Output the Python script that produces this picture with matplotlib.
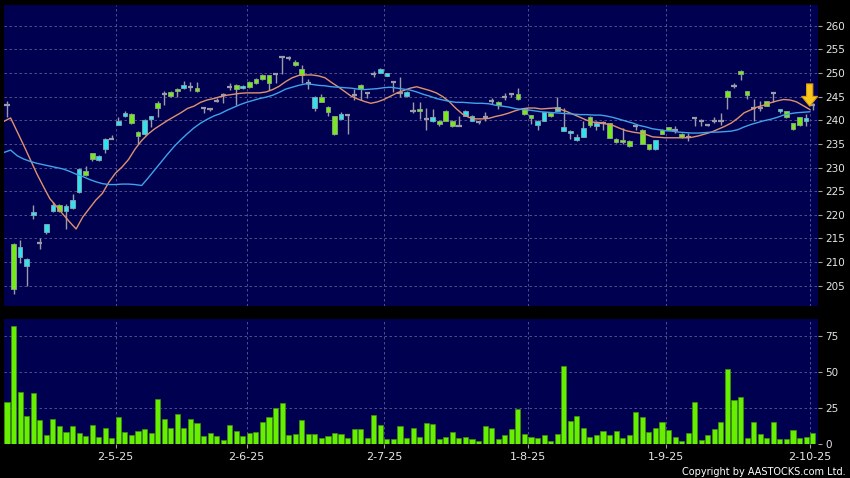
import numpy as np
import matplotlib
matplotlib.use('Agg')
import matplotlib.pyplot as plt
from matplotlib.patches import FancyArrowPatch, ArrowStyle

# daily candles, Apr 2025 - 2 Oct 2025
opens = [243.2, 213.9, 211.1, 209.2, 220.0, 214.0, 216.3, 220.8, 222.1, 220.8,
         221.5, 224.9, 229.2, 233.0, 231.6, 233.9, 236.1, 239.0, 241.0, 241.3,
         237.6, 237.1, 240.2, 243.6, 245.6, 246.0, 246.7, 246.8, 247.0, 246.8,
         242.6, 242.3, 244.0, 245.4, 247.0, 247.5, 246.8, 248.2, 248.8, 249.5,
         249.5, 249.9, 253.3, 253.2, 252.3, 250.8, 247.8, 242.6, 244.9, 242.9,
         240.9, 240.3, 241.1, 245.4, 247.5, 245.8, 249.9, 250.1, 249.4, 248.2,
         245.8, 245.1, 241.9, 242.3, 240.3, 239.9, 239.9, 242.0, 239.9, 238.8,
         241.0, 239.9, 239.6, 240.6, 244.0, 243.8, 244.9, 245.6, 245.6, 242.5,
         241.1, 239.1, 239.9, 241.6, 242.0, 237.8, 237.3, 235.8, 236.5, 240.8,
         238.8, 239.4, 239.4, 236.1, 235.8, 235.7, 238.7, 238.0, 234.9, 233.9,
         238.0, 238.5, 238.0, 237.1, 236.5, 240.4, 239.9, 238.9, 239.8, 239.8,
         246.3, 247.3, 250.4, 246.1, 242.6, 242.7, 244.0, 245.7, 242.0, 241.9,
         239.4, 240.6, 239.9, 243.2]
highs = [244.0, 214.0, 214.6, 210.8, 222.0, 215.1, 218.1, 222.7, 222.3, 222.3,
         224.3, 229.8, 230.4, 233.1, 232.6, 236.2, 236.8, 240.8, 241.9, 241.5,
         237.8, 240.3, 241.0, 244.0, 246.3, 246.2, 246.8, 248.4, 248.0, 248.0,
         242.7, 242.4, 244.8, 245.7, 247.8, 247.6, 247.4, 248.3, 249.0, 249.7,
         249.6, 250.0, 253.7, 253.7, 252.7, 251.6, 248.7, 245.1, 245.6, 243.0,
         241.0, 241.8, 241.2, 246.7, 247.6, 246.0, 250.5, 251.0, 250.1, 248.4,
         249.1, 246.2, 243.8, 243.8, 242.6, 242.3, 240.0, 242.1, 240.0, 241.0,
         242.2, 241.1, 239.9, 241.7, 244.8, 244.0, 245.8, 245.8, 246.9, 242.6,
         241.2, 240.0, 241.8, 241.7, 245.0, 242.6, 237.9, 237.2, 239.9, 240.9,
         239.9, 239.8, 239.5, 236.2, 238.3, 235.8, 239.2, 238.1, 235.0, 235.9,
         238.1, 238.6, 238.8, 237.3, 237.4, 240.6, 240.2, 239.0, 240.6, 241.5,
         246.4, 247.8, 250.6, 246.2, 244.5, 244.0, 244.1, 245.9, 242.4, 242.0,
         239.5, 240.7, 241.4, 243.6]
lows = [240.6, 203.2, 209.9, 205.0, 219.2, 212.7, 215.9, 220.6, 220.6, 217.0,
        221.3, 224.7, 228.2, 231.3, 231.4, 233.0, 236.0, 238.9, 240.6, 239.2,
        235.0, 236.9, 238.5, 240.8, 243.2, 245.0, 244.9, 246.6, 246.2, 245.9,
        241.5, 241.9, 243.8, 243.7, 246.5, 243.3, 246.6, 246.9, 247.7, 248.6,
        246.5, 247.9, 249.9, 252.8, 251.5, 247.8, 246.6, 241.9, 243.8, 240.9,
        236.9, 240.2, 237.1, 244.2, 244.2, 244.7, 249.2, 250.0, 249.3, 246.0,
        245.0, 245.0, 241.5, 240.3, 238.0, 239.7, 238.7, 239.8, 238.6, 238.7,
        240.9, 239.8, 239.3, 239.9, 243.4, 242.4, 244.3, 244.9, 244.4, 241.2,
        239.3, 238.0, 239.8, 240.8, 241.9, 237.7, 236.1, 235.7, 236.4, 238.6,
        237.9, 237.9, 236.2, 235.3, 235.0, 234.4, 238.0, 234.9, 233.8, 233.8,
        237.0, 237.9, 237.4, 236.3, 235.6, 238.7, 238.7, 238.8, 239.4, 238.9,
        242.3, 246.8, 248.5, 244.5, 239.8, 242.0, 243.0, 243.8, 241.5, 240.4,
        237.9, 238.8, 238.8, 242.2]
closes = [243.2, 204.2, 213.2, 210.7, 220.6, 214.0, 218.0, 222.1, 220.8, 221.9,
          223.2, 229.7, 228.4, 231.8, 232.5, 236.1, 236.1, 239.9, 241.5, 239.4,
          236.7, 240.1, 240.9, 242.5, 245.6, 245.1, 246.2, 247.5, 247.0, 246.3,
          242.6, 242.3, 244.0, 245.4, 247.0, 246.7, 247.3, 247.1, 247.9, 248.8,
          247.8, 249.9, 253.3, 253.2, 251.8, 249.6, 247.8, 245.0, 243.9, 241.7,
          237.0, 241.3, 241.1, 245.4, 246.6, 245.8, 249.9, 250.8, 250.0, 248.2,
          245.8, 245.9, 241.9, 241.9, 240.3, 240.8, 239.2, 239.9, 238.8, 238.8,
          242.0, 241.0, 239.6, 240.6, 244.0, 243.2, 244.9, 245.6, 244.5, 241.3,
          240.5, 239.9, 241.7, 240.9, 242.9, 238.5, 237.8, 236.5, 238.3, 239.1,
          239.5, 239.4, 236.3, 235.4, 235.4, 234.6, 238.7, 235.0, 233.9, 235.8,
          237.1, 238.0, 238.0, 236.4, 236.5, 240.4, 239.9, 238.9, 239.8, 239.8,
          244.9, 247.3, 249.8, 245.3, 242.6, 242.7, 243.1, 245.7, 242.4, 240.6,
          238.2, 239.1, 240.4, 243.2]
volumes = [28.7, 81.9, 35.6, 18.8, 35.2, 16.2, 5.8, 17.1, 12.0, 8.3,
           12.5, 7.6, 5.3, 13.2, 4.6, 11.1, 3.7, 18.1, 8.1, 6.0,
           8.8, 10.2, 7.2, 31.3, 16.7, 11.1, 20.8, 10.6, 16.9, 14.1,
           4.9, 7.2, 5.3, 2.5, 13.0, 8.8, 5.1, 7.2, 8.1, 15.3,
           18.1, 24.5, 28.0, 5.6, 6.3, 16.2, 6.9, 6.3, 3.7, 5.3,
           7.6, 6.9, 3.7, 10.2, 10.4, 3.7, 19.7, 13.2, 2.8, 2.8,
           12.5, 3.5, 10.9, 4.2, 14.6, 13.5, 2.8, 4.6, 7.9, 3.9,
           4.4, 3.2, 1.6, 12.5, 10.9, 2.8, 5.6, 10.2, 23.7, 6.7,
           4.2, 3.5, 6.0, 1.4, 6.7, 53.6, 15.5, 18.8, 11.1, 4.2,
           5.8, 9.0, 5.8, 8.6, 3.7, 6.0, 21.8, 18.1, 7.7, 10.9,
           15.3, 9.7, 4.4, 1.4, 7.0, 29.2, 2.6, 5.6, 10.2, 14.8,
           51.5, 30.4, 32.5, 3.7, 15.3, 6.3, 3.5, 15.1, 3.2, 3.2,
           9.3, 3.9, 4.2, 7.4]

# moving averages as drawn on the chart (one value per day slot)
ma10 = [239.8, 240.5, 237.6, 234.7, 231.7, 228.7, 226.0, 223.4, 221.8, 220.1,
        218.5, 217.0, 219.5, 221.3, 223.1, 224.5, 226.9, 228.8, 230.1, 231.7,
        233.9, 235.7, 237.1, 238.2, 239.1, 240.0, 240.8, 241.6, 242.5, 243.0,
        243.8, 244.3, 244.6, 245.0, 245.3, 245.5, 245.7, 245.8, 245.8, 245.8,
        246.0, 246.5, 247.2, 248.2, 249.0, 249.5, 249.6, 249.6, 249.4, 249.0,
        248.0, 247.1, 246.1, 245.1, 244.5, 244.0, 243.6, 243.9, 244.4, 245.1,
        245.8, 246.3, 246.8, 247.1, 246.7, 246.3, 245.8, 245.0, 243.9, 242.5,
        241.3, 240.6, 240.3, 240.3, 240.4, 240.8, 241.1, 241.5, 242.0, 242.4,
        242.6, 242.6, 242.4, 242.5, 242.6, 242.3, 241.8, 241.2, 240.6, 240.0,
        239.6, 239.5, 239.2, 238.9, 238.3, 237.8, 237.5, 237.3, 237.0, 236.5,
        236.4, 236.3, 236.3, 236.3, 236.3, 236.4, 236.7, 237.1, 237.5, 238.1,
        238.7, 239.4, 240.4, 241.6, 242.2, 242.8, 243.2, 243.7, 244.1, 244.4,
        244.3, 243.9, 243.1, 242.3]
ma20 = [233.2, 233.7, 232.5, 231.8, 231.3, 230.9, 230.6, 230.3, 230.0, 229.7,
        229.2, 228.6, 228.1, 227.5, 227.0, 226.6, 226.4, 226.4, 226.5, 226.5,
        226.4, 226.2, 227.8, 229.5, 231.2, 232.9, 234.5, 235.9, 237.2, 238.4,
        239.4, 240.2, 240.9, 241.4, 242.1, 242.7, 243.3, 243.8, 244.2, 244.6,
        244.9, 245.3, 245.9, 246.6, 247.0, 247.4, 247.7, 247.6, 247.4, 247.3,
        247.1, 247.0, 246.9, 246.8, 246.6, 246.5, 246.6, 246.7, 246.9, 247.0,
        246.8, 246.6, 246.4, 246.0, 245.5, 245.1, 244.6, 244.3, 244.0, 243.8,
        243.8, 243.7, 243.6, 243.6, 243.5, 243.2, 243.0, 242.8, 242.5, 242.3,
        242.2, 242.0, 241.8, 241.7, 241.6, 241.5, 241.4, 241.3, 241.2, 241.2,
        241.1, 241.1, 240.9, 240.6, 240.2, 239.8, 239.4, 238.9, 238.6, 238.2,
        238.0, 237.8, 237.7, 237.5, 237.4, 237.3, 237.3, 237.4, 237.5, 237.5,
        237.6, 237.7, 238.0, 238.6, 239.1, 239.5, 239.9, 240.2, 240.6, 241.1,
        241.4, 241.6, 241.7, 241.8]

# first trading day of each month shown on the axis
tick_days = [17, 37, 58, 80, 101, 123]
tick_labels = ['2-5-25', '2-6-25', '2-7-25', '1-8-25', '1-9-25', '2-10-25']

o = np.array(opens)
h = np.array(highs)
l = np.array(lows)
c = np.array(closes)
idx = np.arange(len(c))

W, H = 850, 478
fig = plt.figure(figsize=(W / 100, H / 100), dpi=100, facecolor='black')
ax = fig.add_axes([4 / W, 1 - 306 / H, 814 / W, 301 / H])
axv = fig.add_axes([4 / W, 1 - 443.5 / H, 814 / W, 124.5 / H])

panel_bg = '#000050'
grid_col = '#5c5c94'
label_col = '#e6e6e6'
tick_col = '#a0a0a0'
green = '#76e81e'
cyan = '#2ee2f0'
wick = '#9a9aa8'

# candles
up = c > o
down = c < o
flat = c == o
ax.vlines(idx, l, h, color=wick, lw=1.0, zorder=3)
ax.bar(idx[up], (c - o)[up], bottom=o[up], width=0.72, color=cyan,
       edgecolor='#8aa6b0', lw=0.6, zorder=4)
ax.bar(idx[down], (o - c)[down], bottom=c[down], width=0.72, color=green,
       edgecolor='#8fa58a', lw=0.6, zorder=4)
ax.hlines(c[flat], idx[flat] - 0.4, idx[flat] + 0.4, color=wick, lw=1.6, zorder=4)

# moving averages sit half a slot left of the candles
x_ma = idx - 0.45
ax.plot(x_ma, ma10, color='#e0926c', lw=1.0, zorder=5)
ax.plot(x_ma, ma20, color='#3fa2ea', lw=1.0, zorder=5)

# yellow marker arrow on the latest day
tip = (x_ma[-1], ma10[-1] + 0.7)
arrow = FancyArrowPatch((tip[0], tip[1] + 4.7), tip,
                        arrowstyle=ArrowStyle.Simple(head_length=0.7, head_width=1.15,
                                                     tail_width=0.45),
                        mutation_scale=10, fc='#f6c81a', ec='#e09a10', lw=0.8,
                        shrinkA=0, shrinkB=0, zorder=6)
ax.add_patch(arrow)

# volume
axv.bar(idx, volumes, width=0.78, color='#66f000', edgecolor='#3f8f12', lw=0.5, zorder=3)

grid_x = np.array(tick_days) - 0.4
for a in (ax, axv):
    a.set_facecolor(panel_bg)
    a.set_xlim(-0.46, 123.82)
    for s in a.spines.values():
        s.set_visible(False)
    a.yaxis.tick_right()
    a.set_axisbelow(True)
    a.set_xticks(grid_x)
    a.grid(True, color=grid_col, ls=(0, (3, 3)), lw=0.6)
    a.tick_params(axis='y', colors=tick_col, labelcolor=label_col, labelsize=7.5,
                  length=3, width=0.8, pad=2)

ax.set_ylim(200.7, 264.4)
ax.set_yticks(range(205, 261, 5))
ax.tick_params(axis='x', bottom=False, labelbottom=False)

axv.set_ylim(0, 86.6)
axv.set_yticks([0, 25, 50, 75])
axv.set_xticklabels(tick_labels)
axv.tick_params(axis='x', colors=tick_col, labelcolor=label_col, labelsize=8,
                length=3, width=0.8, pad=3)

fig.text(846 / W, 1 - 472 / H, 'Copyright by AASTOCKS.com Ltd.', ha='right',
         va='center', color='white', fontsize=7)

fig.savefig('out.png', dpi=100, facecolor='black')
